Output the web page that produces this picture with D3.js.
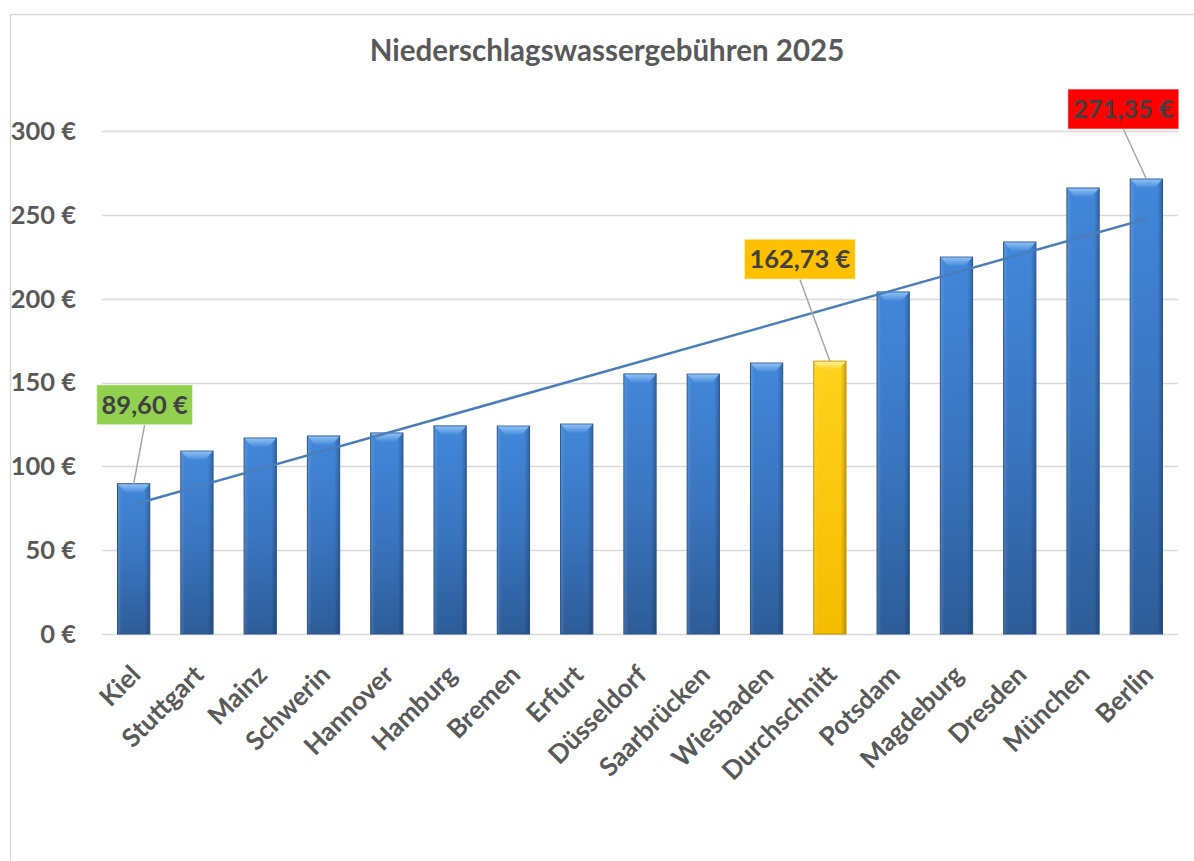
<!DOCTYPE html>
<html>
<head>
<meta charset="utf-8">
<script src="https://cdn.jsdelivr.net/npm/d3@7"></script>
<style>
  html, body { margin: 0; padding: 0; background: #fff; }
  svg { display: block; font-family: Lato, "Open Sans", sans-serif; }
</style>
</head>
<body>
<svg id="chart" width="1194" height="861"></svg>
<script>
// ---- data ----
const categories = ["Kiel","Stuttgart","Mainz","Schwerin","Hannover","Hamburg","Bremen","Erfurt","Düsseldorf","Saarbrücken","Wiesbaden","Durchschnitt","Potsdam","Magdeburg","Dresden","München","Berlin"];
const values = [89.60,109.1,116.9,118.1,119.9,124.1,124.0,125.2,155.1,155.0,161.6,162.73,204.0,224.8,233.8,266.0,271.35];
const yTicks = [0,50,100,150,200,250,300];
const title = "Niederschlagswassergebühren 2025";
const callouts = [
  {cat:"Kiel", text:"89,60 €", fill:"#92d050", dx:11, dy:-59, w:96},
  {cat:"Durchschnitt", text:"162,73 €", fill:"#ffc000", dx:-30, dy:-82, w:111},
  {cat:"Berlin", text:"271,35 €", fill:"#ff0000", dx:-23, dy:-50, w:111}
];
const highlight = "Durchschnitt";

const svg = d3.select("#chart");
const defs = svg.append("defs");

// chart frame
svg.append("rect").attr("x",10.5).attr("y",14.5).attr("width",1300).attr("height",1000)
  .attr("fill","#fff").attr("stroke","#d9d9d9").attr("stroke-width",1.5);

const x = d3.scaleBand().domain(categories).range([102,1178]).paddingInner(0.49).paddingOuter(0.245);
const y = d3.scaleLinear().domain([0,300]).range([634,131]);

// gradients
function vgrad(id, stops){
  const g = defs.append("linearGradient").attr("id",id).attr("x1",0).attr("y1",0).attr("x2",0).attr("y2",1);
  stops.forEach(s=>g.append("stop").attr("offset",s[0]).attr("stop-color",s[1]));
}
function hgrad(id, stops){
  const g = defs.append("linearGradient").attr("id",id).attr("x1",0).attr("y1",0).attr("x2",1).attr("y2",0);
  stops.forEach(s=>g.append("stop").attr("offset",s[0]).attr("stop-color",s[1]).attr("stop-opacity",s[2]));
}
vgrad("blueV", [[0,"#4287da"],[0.5,"#3a75c0"],[1,"#2d5c98"]]);
vgrad("yellowV", [[0,"#ffd21c"],[1,"#f4bd00"]]);
vgrad("blueBevel", [[0,"#8ec0f4"],[1,"#4a8ddc"]]);
vgrad("yellowBevel", [[0,"#fff09a"],[1,"#ffd21c"]]);
hgrad("shadeH", [[0,"#ffffff",0.12],[0.12,"#ffffff",0],[0.85,"#000000",0],[1,"#000000",0.22]]);

// gridlines
svg.append("g").selectAll("line").data(yTicks).join("line")
  .attr("x1",102).attr("x2",1178)
  .attr("y1",d=>Math.round(y(d))+0.5).attr("y2",d=>Math.round(y(d))+0.5)
  .attr("stroke","#d9d9d9").attr("stroke-width",1.5);

// y labels
svg.append("g").selectAll("text").data(yTicks).join("text")
  .attr("x",76).attr("y",d=>y(d)).attr("dy","0.35em")
  .attr("text-anchor","end").attr("font-size",25.5).attr("font-weight",700).attr("fill","#595959")
  .text(d=>d+" €");

// bars
const bars = svg.append("g").selectAll("g").data(categories).join("g");
bars.append("rect")
  .attr("x",d=>x(d)).attr("width",x.bandwidth())
  .attr("y",(d,i)=>y(values[i])).attr("height",(d,i)=>y(0)-y(values[i]))
  .attr("fill",d=>d===highlight?"url(#yellowV)":"url(#blueV)")
  .attr("stroke",d=>d===highlight?"#c49300":"#2a5388").attr("stroke-width",1);
bars.append("rect")
  .attr("x",d=>x(d)+0.5).attr("width",x.bandwidth()-1)
  .attr("y",(d,i)=>y(values[i])+0.5).attr("height",(d,i)=>y(0)-y(values[i])-1)
  .attr("fill","url(#shadeH)");
bars.append("path")
  .attr("d",(d,i)=>{
    const x0=x(d)+0.5, x1=x(d)+x.bandwidth()-0.5, t=y(values[i])+0.5, h=8, b=7;
    return `M${x0},${t}L${x1},${t}L${x1-b},${t+h}L${x0+b},${t+h}Z`;
  })
  .attr("fill",d=>d===highlight?"url(#yellowBevel)":"url(#blueBevel)");

// trendline (least squares over category index)
const n = values.length;
const mx = d3.mean(d3.range(n)), my = d3.mean(values);
const slope = d3.sum(d3.range(n), i=>(i-mx)*(values[i]-my)) / d3.sum(d3.range(n), i=>(i-mx)*(i-mx));
const icpt = my - slope*mx;
const cx = c => x(c)+x.bandwidth()/2;
svg.append("line")
  .attr("x1",cx(categories[0])).attr("y1",y(icpt))
  .attr("x2",cx(categories[n-1])).attr("y2",y(icpt+slope*(n-1)))
  .attr("stroke","#4a7ebb").attr("stroke-width",2.5).attr("stroke-linecap","round");

// x labels
svg.append("g").selectAll("text").data(categories).join("text")
  .attr("transform",d=>`translate(${cx(d)+2},${y(0)+36}) rotate(-45)`)
  .attr("dy","0.35em").attr("text-anchor","end")
  .attr("font-size",26).attr("font-weight",700).attr("fill","#595959")
  .text(d=>d);

// callouts
const cg = svg.append("g").selectAll("g").data(callouts).join("g");
cg.each(function(c){
  const g = d3.select(this);
  const i = categories.indexOf(c.cat);
  const bx = cx(c.cat), by = y(values[i]);
  const boxCx = bx + c.dx, boxBottom = by + c.dy, h = 40;
  g.append("line").attr("x1",boxCx).attr("y1",boxBottom).attr("x2",bx).attr("y2",by)
    .attr("stroke","#a6a6a6").attr("stroke-width",1.5);
  g.append("rect").attr("x",boxCx-c.w/2).attr("y",boxBottom-h).attr("width",c.w).attr("height",h)
    .attr("fill",c.fill).attr("stroke","#ffffff").attr("stroke-opacity",0.6).attr("stroke-width",1);
  g.append("text").attr("x",boxCx).attr("y",boxBottom-h/2).attr("dy","0.35em")
    .attr("text-anchor","middle").attr("font-size",25.5).attr("font-weight",700).attr("fill","#404040")
    .text(c.text);
});

// title
svg.append("text").attr("x",607).attr("y",51).attr("dy","0.35em").attr("text-anchor","middle")
  .attr("font-size",29.5).attr("font-weight",700).attr("fill","#595959").text(title);
</script>
</body>
</html>
